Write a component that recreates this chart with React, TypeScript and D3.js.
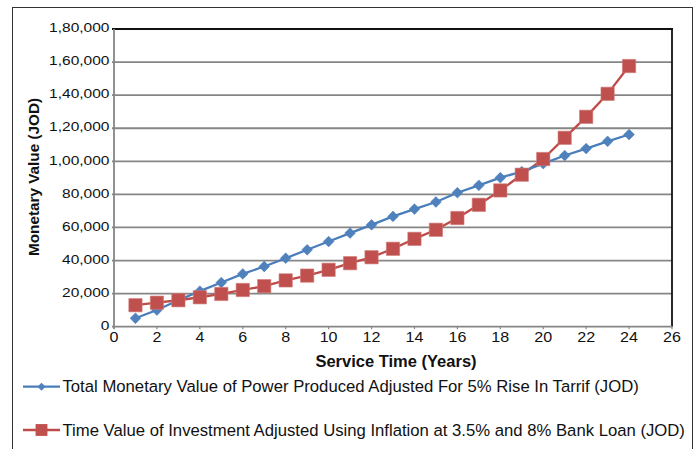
import { useEffect, useRef } from 'react';
import * as d3 from 'd3';

// service years
const years = d3.range(1, 25);

// Total Monetary Value of Power Produced Adjusted For 5% Rise In Tarrif (JOD)
const powerValue = [
  5100, 10100, 16000, 21500, 26700, 31900, 36400, 41400, 46500, 51500, 56600, 61600,
  66700, 71100, 75400, 81000, 85500, 90100, 93800, 98600, 103500, 107700, 112100, 116200,
];

// Time Value of Investment Adjusted Using Inflation at 3.5% and 8% Bank Loan (JOD)
const investmentValue = [
  13000, 14500, 16000, 17800, 19800, 22200, 24500, 28000, 30900, 34400, 38400, 42000,
  47100, 53100, 58600, 65700, 73700, 82400, 91900, 101400, 114200, 126900, 140800, 157600,
];

const xTicks = d3.range(0, 27, 2);
const yTicks = d3.range(0, 180001, 20000);
const yTickLabels = ['0', '20,000', '40,000', '60,000', '80,000', '1,00,000', '1,20,000', '1,40,000', '1,60,000', '1,80,000'];

const legendLabels = [
  'Total Monetary Value of Power Produced Adjusted For 5% Rise In Tarrif (JOD)',
  'Time Value of Investment Adjusted Using Inflation at 3.5% and 8% Bank Loan (JOD)',
];

const BLUE = '#4a7ebb';
const BLUE_FILL = '#4f81bd';
const RED = '#be4b48';
const RED_FILL = '#c0504d';
const FONT = '"Liberation Sans", Arial, sans-serif';

export default function App() {
  const ref = useRef<SVGSVGElement>(null);

  useEffect(() => {
    if (!ref.current) return;
    const svg = d3.select(ref.current);
    svg.selectAll('*').remove();

    const H = 449;
    const m = { left: 114, right: 672, top: 29, bottom: 326.7 };

    // outer chart border
    svg.append('rect').attr('x', 12.5).attr('y', 7.5).attr('width', 680).attr('height', H + 10)
      .attr('fill', 'white').attr('stroke', '#333').attr('stroke-width', 1);

    const x = d3.scaleLinear().domain([0, 26]).range([m.left, m.right]);
    const y = d3.scaleLinear().domain([0, 180000]).range([m.bottom, m.top]);

    // grid
    svg.append('g').selectAll('line').data(yTicks.slice(1, -1)).enter().append('line')
      .attr('x1', m.left - 2).attr('x2', m.right).attr('y1', d => y(d)).attr('y2', d => y(d))
      .attr('stroke', '#868686').attr('stroke-width', 1.8);

    // plot frame: top/right dark, left/bottom gray
    svg.append('line').attr('x1', m.left - 2).attr('x2', m.right + 1).attr('y1', y(180000)).attr('y2', y(180000))
      .attr('stroke', '#111').attr('stroke-width', 1.8);
    svg.append('line').attr('x1', m.right).attr('x2', m.right).attr('y1', m.top).attr('y2', m.bottom)
      .attr('stroke', '#111').attr('stroke-width', 1.8);
    svg.append('line').attr('x1', m.left).attr('x2', m.left).attr('y1', m.top).attr('y2', m.bottom + 2)
      .attr('stroke', '#868686').attr('stroke-width', 1.8);
    svg.append('line').attr('x1', m.left - 2).attr('x2', m.right).attr('y1', m.bottom).attr('y2', m.bottom)
      .attr('stroke', '#868686').attr('stroke-width', 1.8);
    svg.append('g').selectAll('line').data(xTicks).enter().append('line')
      .attr('x1', d => x(d)).attr('x2', d => x(d)).attr('y1', m.bottom).attr('y2', m.bottom + 2.5)
      .attr('stroke', '#868686').attr('stroke-width', 1.2);

    // y tick labels (slightly wide glyphs, as in the source)
    svg.append('g').selectAll('text').data(yTicks).enter().append('text')
      .attr('transform', d => `translate(${m.left - 4.5},${y(d) + 3.2}) scale(1.15,1)`).attr('text-anchor', 'end')
      .attr('font-family', FONT).attr('font-size', 13.5).attr('fill', '#111')
      .text((_, i) => yTickLabels[i]);

    // x tick labels
    svg.append('g').selectAll('text').data(xTicks).enter().append('text')
      .attr('transform', d => `translate(${x(d)},${m.bottom + 15})  scale(1.15,1)`).attr('text-anchor', 'middle')
      .attr('font-family', FONT).attr('font-size', 14).attr('fill', '#111')
      .text(d => String(d));

    // axis titles
    svg.append('text').attr('x', 396).attr('y', 367).attr('text-anchor', 'middle')
      .attr('font-family', FONT).attr('font-size', 16.5).attr('font-weight', 'bold').attr('fill', '#111')
      .text('Service Time (Years)');
    svg.append('text').attr('transform', `translate(38.5,177) rotate(-90)`).attr('text-anchor', 'middle')
      .attr('font-family', FONT).attr('font-size', 15.3).attr('font-weight', 'bold').attr('fill', '#111')
      .text('Monetary Value (JOD)');

    const line = d3.line<number>().x((_, i) => x(years[i])).y(d => y(d));

    // series
    svg.append('path').datum(investmentValue).attr('d', line).attr('fill', 'none')
      .attr('stroke', RED).attr('stroke-width', 2.3);
    svg.append('path').datum(powerValue).attr('d', line).attr('fill', 'none')
      .attr('stroke', BLUE).attr('stroke-width', 2.3);

    const diamond = d3.symbol().type(d3.symbolDiamond2).size(74)();
    const square = d3.symbol().type(d3.symbolSquare).size(177)();

    svg.append('g').selectAll('path').data(powerValue).enter().append('path')
      .attr('d', diamond).attr('transform', (d, i) => `translate(${x(years[i])},${y(d)})`)
      .attr('fill', BLUE_FILL).attr('stroke', BLUE).attr('stroke-width', 0.5);
    svg.append('g').selectAll('path').data(investmentValue).enter().append('path')
      .attr('d', square).attr('transform', (d, i) => `translate(${x(years[i])},${y(d)})`)
      .attr('fill', RED_FILL).attr('stroke', '#d07a78').attr('stroke-width', 0.6);

    // legend
    const lg = [
      { y: 386.7, color: BLUE, fill: BLUE_FILL, shape: d3.symbol().type(d3.symbolDiamond2).size(40)(), label: legendLabels[0] },
      { y: 430, color: RED, fill: RED_FILL, shape: d3.symbol().type(d3.symbolSquare).size(140)(), label: legendLabels[1] },
    ];
    lg.forEach(l => {
      svg.append('line').attr('x1', 23).attr('x2', 60).attr('y1', l.y).attr('y2', l.y)
        .attr('stroke', l.color).attr('stroke-width', 2.3);
      svg.append('path').attr('d', l.shape).attr('transform', `translate(41.5,${l.y})`).attr('fill', l.fill);
      svg.append('text').attr('x', 62.5).attr('y', l.y + 5.5)
        .attr('font-family', FONT).attr('font-size', 16.7).attr('fill', '#111')
        .text(l.label);
    });
  }, []);

  return (
    <div style={{ position: 'absolute', left: 0, top: 0, width: 698, height: 449, background: 'white' }}>
      <svg ref={ref} width={698} height={449} style={{ display: 'block' }} />
    </div>
  );
}
